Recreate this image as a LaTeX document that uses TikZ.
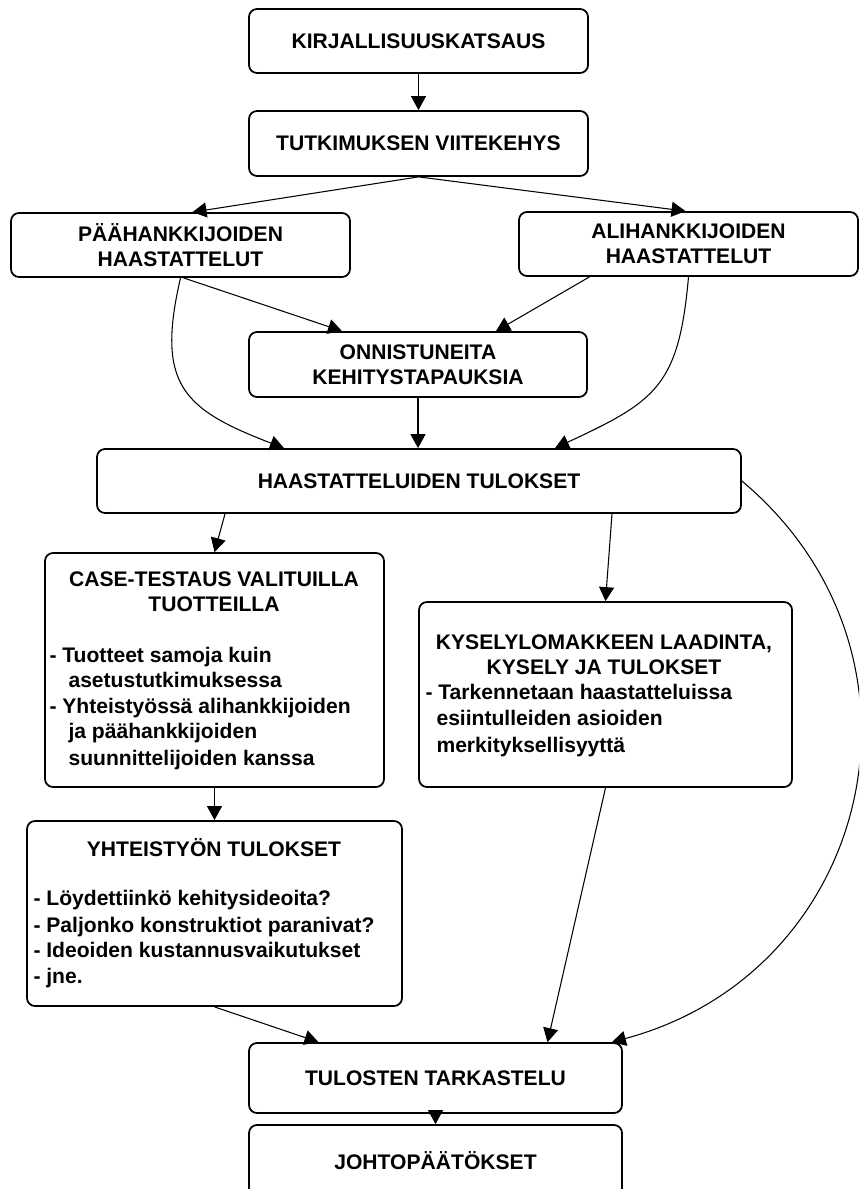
\documentclass[tikz,border=0pt]{standalone}
\usepackage{fontspec}
\setmainfont{Liberation Sans}
\usetikzlibrary{arrows.meta}

\def\px{0.02cm}

\begin{document}
\begin{tikzpicture}[x=\px,y=\px,->,>={Triangle[length=0.28cm,width=0.3cm]},line width=0.6pt]
	\tikzstyle{box}=[draw,rounded corners=0.16cm,line width=1pt,inner sep=0pt,align=center,font=\fontsize{12}{14.3}\selectfont\bfseries]
	\tikzstyle{title}=[inner sep=0pt,align=center,font=\fontsize{12}{14.3}\selectfont\bfseries]
	\tikzstyle{listrow}=[inner sep=0pt,anchor=west,text height=9pt,text depth=2.5pt,font=\fontsize{12}{14.3}\selectfont\bfseries]

	\useasboundingbox (0,0) rectangle (859,-1189);
	\clip (0,0) rectangle (859,-1189);

	% Draw the boxes
	\node[box,minimum width=339*\px,minimum height=64*\px] (lit) at (418.5,-41) {KIRJALLISUUSKATSAUS};
	\node[box,minimum width=339*\px,minimum height=65*\px] (frame) at (418.5,-143.5) {TUTKIMUKSEN VIITEKEHYS};
	\node[box,minimum width=339*\px,minimum height=64*\px] (main) at (180.5,-245) {PÄÄHANKKIJOIDEN\\HAASTATTELUT};
	\node[box,minimum width=339*\px,minimum height=64*\px] (sub) at (688.5,-244) {ALIHANKKIJOIDEN\\HAASTATTELUT};
	\node[box,minimum width=338*\px,minimum height=65*\px] (cases) at (418,-364.5) {ONNISTUNEITA\\KEHITYSTAPAUKSIA};
	\node[box,minimum width=644*\px,minimum height=64*\px] (res) at (419,-481) {HAASTATTELUIDEN TULOKSET};
	\node[box,minimum width=339*\px,minimum height=234*\px] (test) at (214.5,-670) {};
	\node[box,minimum width=373*\px,minimum height=185*\px] (quest) at (605.5,-694.5) {};
	\node[box,minimum width=375*\px,minimum height=185*\px] (coop) at (214.5,-913.5) {};
	\node[box,minimum width=373*\px,minimum height=70*\px] (review) at (435.5,-1078) {TULOSTEN TARKASTELU};
	\node[box,minimum width=373*\px,minimum height=80*\px,text depth=0.2cm] (concl) at (435.5,-1165) {JOHTOPÄÄTÖKSET};

	% Texts of the larger boxes
	\node[title] (test-t) at (214,-591.5) {CASE-TESTAUS VALITUILLA\\TUOTTEILLA};
	\foreach \x/\y/\txt in {49/657/{- Tuotteet samoja kuin},68/682/{asetustutkimuksessa},49/708/{- Yhteistyössä alihankkijoiden},68/733/{ja päähankkijoiden},68/760/{suunnittelijoiden kanssa}}
	\node[listrow] (test-\y) at (\x,-\y) {\txt};

	\node[title] (quest-t) at (604,-654.5) {KYSELYLOMAKKEEN LAADINTA,\\KYSELY JA TULOKSET};
	\foreach \x/\y/\txt in {425/694/{- Tarkennetaan haastatteluissa},436/720/{esiintulleiden asioiden},436/747/{merkityksellisyyttä}}
	\node[listrow] (quest-\y) at (\x,-\y) {\txt};

	\node[title] (coop-t) at (214,-848) {YHTEISTYÖN TULOKSET};
	\foreach \y/\txt in {900/{- Löydettiinkö kehitysideoita?},927/{- Paljonko konstruktiot paranivat?},952/{- Ideoiden kustannusvaikutukset},978/{- jne.}}
	\node[listrow] (coop-\y) at (33,-\y) {\txt};

	% Connect the boxes
	\draw (lit) -- (frame);
	\draw (frame.south) -- ([xshift=12*\px]main.north);
	\draw (frame.south) -- ([xshift=-3*\px]sub.north);
	\draw ([xshift=3*\px]main.south) -- ([xshift=-76*\px]cases.north);
	\draw ([xshift=-99*\px]sub.south) -- ([xshift=78*\px]cases.north);
	\draw (main.south) to[out=-103,in=159,looseness=1.4] ([xshift=-135*\px]res.north);
	\draw (sub.south) to[out=-95,in=25,looseness=1.3] ([xshift=136*\px]res.north);
	\draw (cases.south) -- (cases.south |- res.north);
	\draw ([xshift=-194*\px]res.south) -- (test.north);
	\draw ([xshift=193*\px]res.south) -- (quest.north);
	\draw (test) -- (coop);
	\draw (coop.south) -- ([xshift=-117*\px]review.north);
	\draw (quest.south) -- ([xshift=112*\px]review.north);
	\draw (res.east) to[out=-40,in=15,looseness=1.2] ([xshift=-11*\px]review.north east);
	\draw (review.south) -- (review.south |- concl.north);
\end{tikzpicture}
\end{document}
